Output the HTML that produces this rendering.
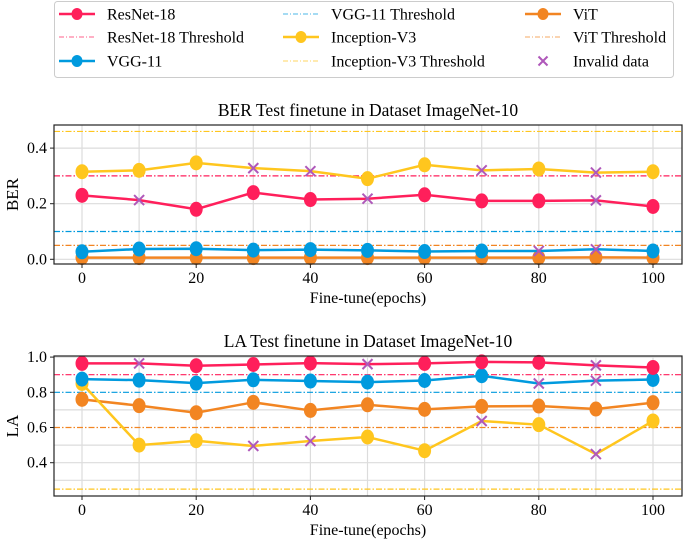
<!DOCTYPE html>
<html><head><meta charset="utf-8"><style>
body{margin:0;background:#fff;}
svg{display:block;}
svg text{font-family:"Liberation Serif","DejaVu Serif",serif;}
</style></head><body>
<svg id="chart" width="685" height="544"></svg>
<script>
const epochs=[0,10,20,30,40,50,60,70,80,90,100];
const berResNet=[0.23,0.213,0.18,0.24,0.215,0.218,0.232,0.21,0.21,0.212,0.19];
const berInception=[0.315,0.32,0.347,0.328,0.317,0.29,0.34,0.32,0.325,0.312,0.315];
const berVGG=[0.027,0.037,0.038,0.033,0.035,0.032,0.028,0.03,0.03,0.036,0.03];
const berViT=[0.006,0.006,0.006,0.006,0.006,0.006,0.006,0.006,0.006,0.007,0.006];
const berResNetInvalid=[10,50,90];
const berInceptionInvalid=[30,40,70,90];
const berVGGInvalid=[80,90];
const berThresholds=[0.3,0.1,0.46,0.05];
const laResNet=[0.964,0.964,0.951,0.958,0.966,0.96,0.964,0.973,0.97,0.953,0.941];
const laVGG=[0.875,0.869,0.852,0.871,0.864,0.858,0.867,0.894,0.85,0.866,0.873];
const laViT=[0.76,0.724,0.684,0.743,0.697,0.729,0.703,0.72,0.722,0.705,0.741];
const laInception=[0.85,0.5,0.525,0.495,0.523,0.546,0.468,0.637,0.616,0.449,0.637];
const laResNetInvalid=[10,50,90];
const laVGGInvalid=[80,90];
const laInceptionInvalid=[30,40,70,90];
const laThresholds=[0.9,0.8,0.25,0.6];
const xTicks=[0,20,40,60,80,100];
const berTicks=[0.0,0.2,0.4];
const laTicks=[0.4,0.6,0.8,1.0];

const C={res:'#ff1f5b',vgg:'#009ade',inc:'#ffc61e',vit:'#f28522',inv:'#af58ba'};
const thrColors=[C.res,C.vgg,C.inc,C.vit];
const FONT='"Liberation Serif","DejaVu Serif",serif';
const svg=document.getElementById('chart');
const NS='http://www.w3.org/2000/svg';
function mk(tag,attrs,parent){const e=document.createElementNS(NS,tag);for(const k in attrs)e.setAttribute(k,attrs[k]);if(tag==='text')e.setAttribute('font-family',FONT);(parent||svg).appendChild(e);return e;}
const xs=v=>82+(v/100)*571;

function panel(cfg){
  const g=mk('g',{});
  
  
  const ys=v=>cfg.y0-(v-cfg.v0)*cfg.k;
  const L=54,R=682,T=cfg.top,B=cfg.bot;
  for(let e=0;e<=100;e+=10){const l=mk('line',{x1:xs(e),x2:xs(e),y1:T,y2:B,stroke:'#dcdcdc','stroke-width':1.2},g);
    }
  cfg.grid.forEach(v=>{const l=mk('line',{x1:L,x2:R,y1:ys(v),y2:ys(v),stroke:'#dcdcdc','stroke-width':1.2},g);
    });
  cfg.thr.forEach((v,i)=>{const l=mk('line',{x1:L,x2:R,y1:ys(v),y2:ys(v),stroke:thrColors[i],'stroke-width':1.2,'stroke-dasharray':'6,2,1.5,2'},g);
    });
  cfg.series.forEach(s=>{
    const pts=epochs.map((e,i)=>xs(e)+','+ys(s.d[i])).join(' ');
    const p=mk('polyline',{points:pts,fill:'none',stroke:s.c,'stroke-width':2.5},g);
    
    epochs.forEach((e,i)=>{
      if(s.inv.includes(e)){
        const x=xs(e),y=ys(s.d[i]),r=5;
        const m=mk('path',{d:`M${x-r},${y-r}L${x+r},${y+r}M${x-r},${y+r}L${x+r},${y-r}`,stroke:C.inv,'stroke-width':2},g);
        
      } else {
        const c=mk('ellipse',{cx:xs(e),cy:ys(s.d[i]),rx:6.5,ry:7.5,fill:s.c},g);
        
      }
    });
  });
  const f=mk('rect',{x:L,y:T,width:R-L,height:B-T,fill:'none',stroke:'#222','stroke-width':1.2},g);
  
  xTicks.forEach(v=>{mk('line',{x1:xs(v),x2:xs(v),y1:B,y2:B+4,stroke:'#222'},g);
    const t=mk('text',{x:xs(v),y:B+19,'text-anchor':'middle','font-size':16},g);t.textContent=v;
    });
  cfg.ticks.forEach(v=>{mk('line',{x1:L-4,x2:L,y1:ys(v),y2:ys(v),stroke:'#222'},g);
    const t=mk('text',{x:L-7,y:ys(v)+5,'text-anchor':'end','font-size':16},g);t.textContent=v.toFixed(1);
    });
  const xl=mk('text',{x:368,y:B+39,'text-anchor':'middle','font-size':16},g);xl.textContent='Fine-tune(epochs)';
  
  const yl=mk('text',{x:18,y:(T+B)/2,'text-anchor':'middle','font-size':17,transform:`rotate(-90 18 ${(T+B)/2})`},g);yl.textContent=cfg.ylab;
  
  const ti=mk('text',{x:368,y:T-9,'text-anchor':'middle','font-size':17.5},g);ti.textContent=cfg.title;
  
}

panel({name:'ber-panel',top:125,bot:264,y0:259.3,v0:0,k:278,grid:[0,0.2,0.4],ticks:berTicks,thr:berThresholds,ylab:'BER',
  title:'BER Test finetune in Dataset ImageNet-10',
  series:[{n:'vit',c:C.vit,d:berViT,inv:[]},{n:'vgg-11',c:C.vgg,d:berVGG,inv:berVGGInvalid},
          {n:'inception-v3',c:C.inc,d:berInception,inv:berInceptionInvalid},{n:'resnet-18',c:C.res,d:berResNet,inv:berResNetInvalid}]});
panel({name:'la-panel',top:356,bot:496,y0:462.7,v0:0.4,k:176,grid:[0.3,0.4,0.5,0.7,1.0],ticks:laTicks,thr:laThresholds,ylab:'LA',
  title:'LA Test finetune in Dataset ImageNet-10',
  series:[{n:'vit',c:C.vit,d:laViT,inv:[]},{n:'inception-v3',c:C.inc,d:laInception,inv:laInceptionInvalid},
          {n:'vgg-11',c:C.vgg,d:laVGG,inv:laVGGInvalid},{n:'resnet-18',c:C.res,d:laResNet,inv:laResNetInvalid}]});

const lg=mk('g',{});


mk('rect',{x:54.5,y:1.5,width:619,height:76,rx:3,fill:'#fff',stroke:'#ccc','stroke-width':1},lg);
const entries=[
 ['ResNet-18',C.res,'s'],['ResNet-18 Threshold',C.res,'t'],['VGG-11',C.vgg,'s'],
 ['VGG-11 Threshold',C.vgg,'t'],['Inception-V3',C.inc,'s'],['Inception-V3 Threshold',C.inc,'t'],
 ['ViT',C.vit,'s'],['ViT Threshold',C.vit,'t'],['Invalid data',C.inv,'x']];
const colX=[59,283,525],rowY=[14,37,61];
entries.forEach((en,i)=>{
  const x=colX[Math.floor(i/3)],y=rowY[i%3];
  const eg=mk('g',{},lg);
  
  
  if(en[2]==='s'){mk('line',{x1:x,x2:x+36,y1:y,y2:y,stroke:en[1],'stroke-width':2.5},eg);mk('ellipse',{cx:x+18,cy:y,rx:5.5,ry:6,fill:en[1]},eg);}
  else if(en[2]==='t'){mk('line',{x1:x,x2:x+36,y1:y,y2:y,stroke:en[1],'stroke-width':1,'stroke-dasharray':'5,2,1,2',opacity:0.7},eg);}
  else {const cx=x+18,r=4.5;mk('path',{d:`M${cx-r},${y-r}L${cx+r},${y+r}M${cx-r},${y+r}L${cx+r},${y-r}`,stroke:en[1],'stroke-width':2},eg);}
  const t=mk('text',{x:x+48,y:y+5.5,'font-size':16},eg);t.textContent=en[0];
});
</script>
</body></html>
